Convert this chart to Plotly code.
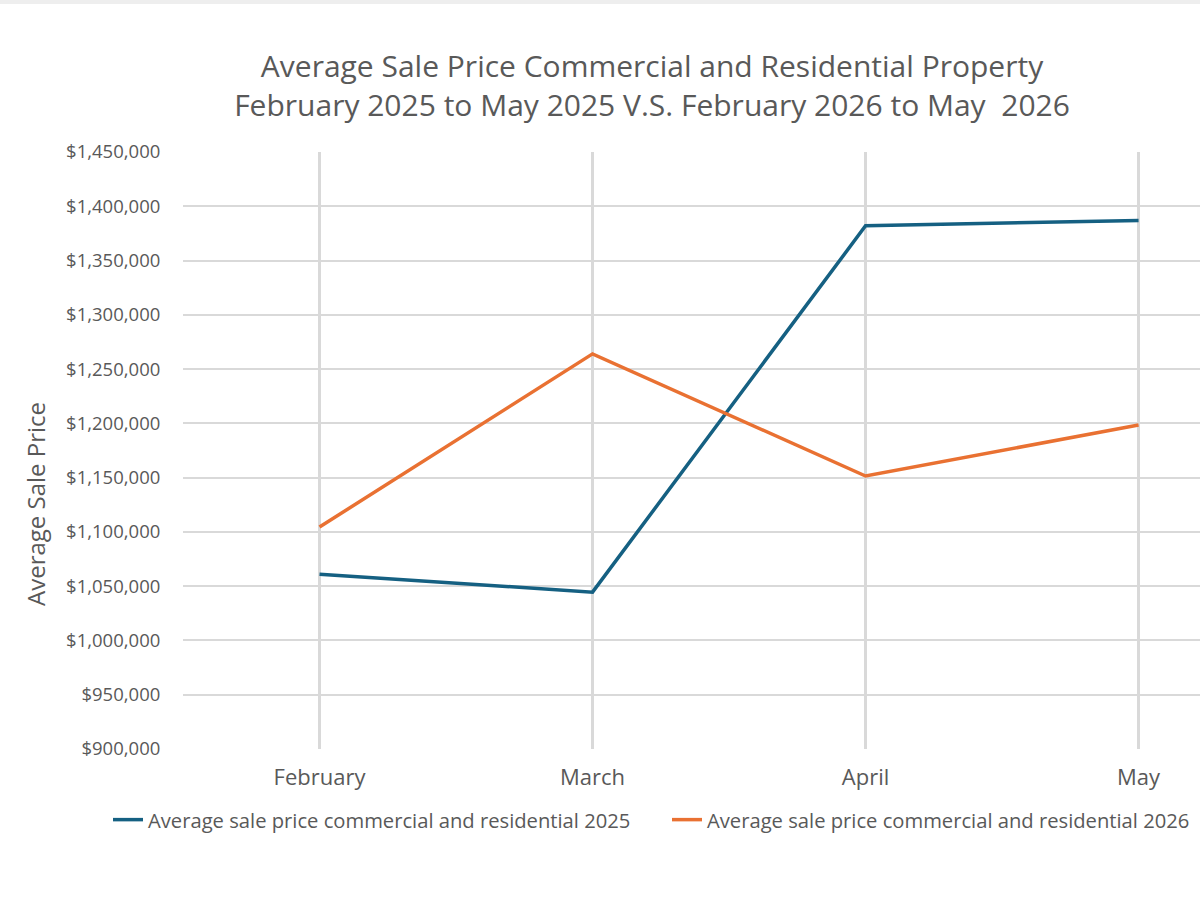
import plotly.graph_objects as go

months = ["February", "March", "April", "May"]
sales_2025 = [1061000, 1044500, 1382000, 1387000]
sales_2026 = [1104500, 1264000, 1151500, 1198500]
name_2025 = "Average sale price commercial and residential 2025"
name_2026 = "Average sale price commercial and residential 2026"
y_ticks = list(range(900000, 1450001, 50000))

x_idx = list(range(len(months)))
FONT = "Open Sans"
TXT = "#595959"

L, R, T, B = 183, 0, 152, 151
PW, PH = 1200 - L - R, 900 - T - B


def px_x(px):
    return (px - L) / PW


def px_y(py):
    return (900 - B - py) / PH


fig = go.Figure()
fig.add_trace(go.Scatter(x=x_idx, y=sales_2025, mode="lines", name=name_2025,
                         line=dict(color="#156082", width=3.5), legend="legend"))
fig.add_trace(go.Scatter(x=x_idx, y=sales_2026, mode="lines", name=name_2026,
                         line=dict(color="#E97132", width=3.5), legend="legend2"))

fig.add_annotation(text="Average Sale Price", textangle=-90, showarrow=False,
                   xref="paper", yref="paper", x=px_x(35), y=px_y(504),
                   xanchor="center", yanchor="middle",
                   font=dict(size=24, color=TXT, family=FONT))

fig.add_shape(type="rect", xref="paper", yref="paper",
              x0=px_x(0), x1=px_x(1200), y0=px_y(0), y1=px_y(4),
              fillcolor="#eeeeee", line=dict(width=0), layer="below")

leg_common = dict(orientation="h", xref="container", yref="container",
                  xanchor="left", yanchor="middle",
                  font=dict(size=20.2, color=TXT, family=FONT),
                  itemwidth=30, bgcolor="rgba(0,0,0,0)")

fig.update_layout(
    width=1200, height=900,
    margin=dict(l=L, r=R, t=T, b=B, autoexpand=False),
    paper_bgcolor="white", plot_bgcolor="white",
    font=dict(family=FONT, color=TXT),
    title=dict(text="Average Sale Price Commercial and Residential Property<br>February 2025 to May 2025 V.S. February 2026 to May  2026",
               x=652/1200, xanchor="center", y=1-77/900, yanchor="middle",
               xref="container", yref="container",
               font=dict(size=30, color=TXT, family=FONT)),
    xaxis=dict(range=[-0.5, 3.225], tickvals=x_idx, ticktext=months,
               showgrid=True, gridcolor="#d9d9d9", gridwidth=2.5,
               zeroline=False, showline=False,
               ticks="outside", ticklen=9, tickcolor="rgba(0,0,0,0)",
               tickfont=dict(size=22, color=TXT, family=FONT)),
    yaxis=dict(range=[900000, 1450000], tickvals=y_ticks,
               tickformat="$,.0f",
               showgrid=True, gridcolor="#d9d9d9", gridwidth=2,
               zeroline=False, showline=False,
               ticks="outside", ticklen=18, tickcolor="rgba(0,0,0,0)",
               tickfont=dict(size=18.5, color=TXT, family=FONT)),
    legend=dict(x=108/1200, y=1-820/900, **leg_common),
    legend2=dict(x=667/1200, y=1-820/900, **leg_common),
    showlegend=True,
)

fig.write_html("out.html")
